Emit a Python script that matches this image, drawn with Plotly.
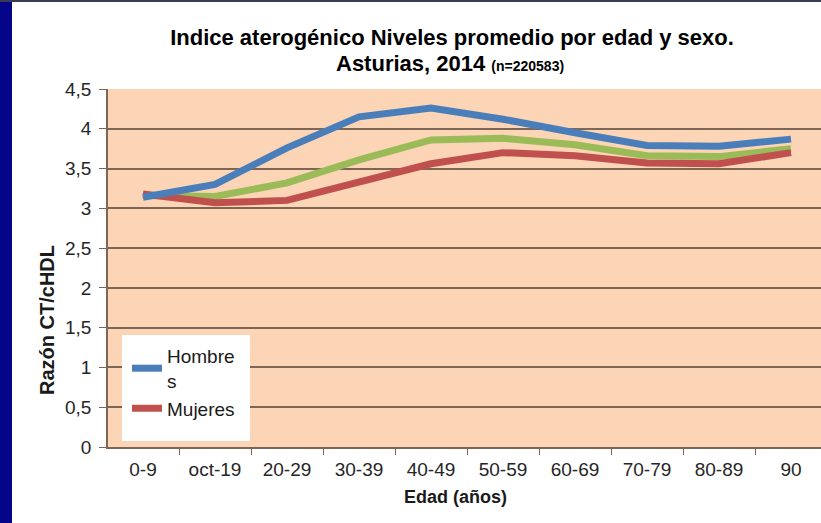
import plotly.graph_objects as go

categories = ["0-9", "oct-19", "20-29", "30-39", "40-49", "50-59", "60-69", "70-79", "80-89", "90"]
hombres = [3.14, 3.30, 3.76, 4.15, 4.26, 4.12, 3.95, 3.79, 3.78, 3.87]
total = [3.16, 3.15, 3.32, 3.61, 3.86, 3.88, 3.80, 3.66, 3.65, 3.75]
mujeres = [3.18, 3.07, 3.10, 3.32, 3.56, 3.70, 3.66, 3.57, 3.56, 3.70]

W, H = 821, 523
L, R, T, B = 108, 0, 89, 76
plot_w = W - L - R
plot_h = H - T - B
px_per_cat = 72
x0 = -(143 - L) / px_per_cat
x1 = x0 + plot_w / px_per_cat

FONT = "Liberation Sans, Arial, sans-serif"
GRID = "#7d6655"


def px_x(px):
    return (px - L) / plot_w


def px_y(py):
    return (H - B - py) / plot_h


fig = go.Figure()
fig.add_trace(go.Scatter(x=categories, y=total, mode="lines", name="Total",
                         line=dict(color="#9BBB59", width=7), showlegend=False))
fig.add_trace(go.Scatter(x=categories, y=mujeres, mode="lines", name="Mujeres",
                         line=dict(color="#C0504D", width=7)))
fig.add_trace(go.Scatter(x=categories, y=hombres, mode="lines", name="Hombre<br>s",
                         line=dict(color="#4A7EBB", width=7)))

fig.update_layout(
    width=W, height=H,
    margin=dict(l=L, r=R, t=T, b=B, pad=0),
    paper_bgcolor="white",
    plot_bgcolor="#FBD5B5",
    separators=",.",
    font=dict(family=FONT, color="#1a1a1a"),
    title=dict(
        text="<b>Indice aterogénico Niveles promedio por edad y sexo.</b>",
        x=452 / W, xanchor="center", xref="container",
        y=1 - 37 / H, yanchor="middle", yref="container",
        font=dict(size=22, color="black", family=FONT),
    ),
    annotations=[
        dict(text="<b>Asturias, 2014 <span style='font-size:14px'>(n=220583)</span></b>",
             xref="paper", yref="paper", x=px_x(450), y=px_y(63),
             xanchor="center", yanchor="middle", showarrow=False,
             font=dict(size=22, color="black", family=FONT)),
        dict(text="<b>Razón CT/cHDL</b>", textangle=-90,
             xref="paper", yref="paper", x=px_x(47), y=px_y(320),
             xanchor="center", yanchor="middle", showarrow=False,
             font=dict(size=20, color="#1a1a1a", family=FONT)),
        dict(text="<b>Edad (años)</b>",
             xref="paper", yref="paper", x=px_x(455), y=px_y(497),
             xanchor="center", yanchor="middle", showarrow=False,
             font=dict(size=18, color="#1a1a1a", family=FONT)),
    ],
    xaxis=dict(
        type="category",
        range=[x0, x1],
        showgrid=False,
        showline=True, linecolor=GRID, linewidth=1.5,
        ticks="outside", tickson="boundaries", ticklen=6, tickcolor=GRID,
        ticklabelstandoff=4,
        tickfont=dict(size=19, color="#262626"),
    ),
    yaxis=dict(
        range=[0, 4.5], dtick=0.5,
        showgrid=True, gridcolor=GRID, gridwidth=1.5,
        showline=True, linecolor=GRID, linewidth=1.5,
        zeroline=False,
        ticks="outside", ticklen=7, tickcolor=GRID,
        ticklabelstandoff=4,
        tickfont=dict(size=19, color="#262626"),
    ),
    legend=dict(
        x=px_x(127), xanchor="left",
        y=px_y(337), yanchor="top",
        bgcolor="rgba(0,0,0,0)",
        font=dict(size=19, color="#1a1a1a"),
        traceorder="reversed",
        itemwidth=30,
    ),
    shapes=[
        dict(type="rect", xref="paper", yref="paper",
             x0=px_x(122), x1=px_x(250), y0=px_y(441), y1=px_y(335),
             fillcolor="white", line=dict(width=0), layer="above"),
        dict(type="rect", xref="paper", yref="paper",
             x0=px_x(0), x1=px_x(12), y0=px_y(H), y1=px_y(0),
             fillcolor="#05058a", line=dict(width=0), layer="above"),
        dict(type="rect", xref="paper", yref="paper",
             x0=px_x(0), x1=px_x(W), y0=px_y(2), y1=px_y(0),
             fillcolor="#3a3a5a", line=dict(width=0), layer="above"),
    ],
)

fig.write_html("out.html", config={"displayModeBar": False},
               post_script="document.body.style.margin='0';")
